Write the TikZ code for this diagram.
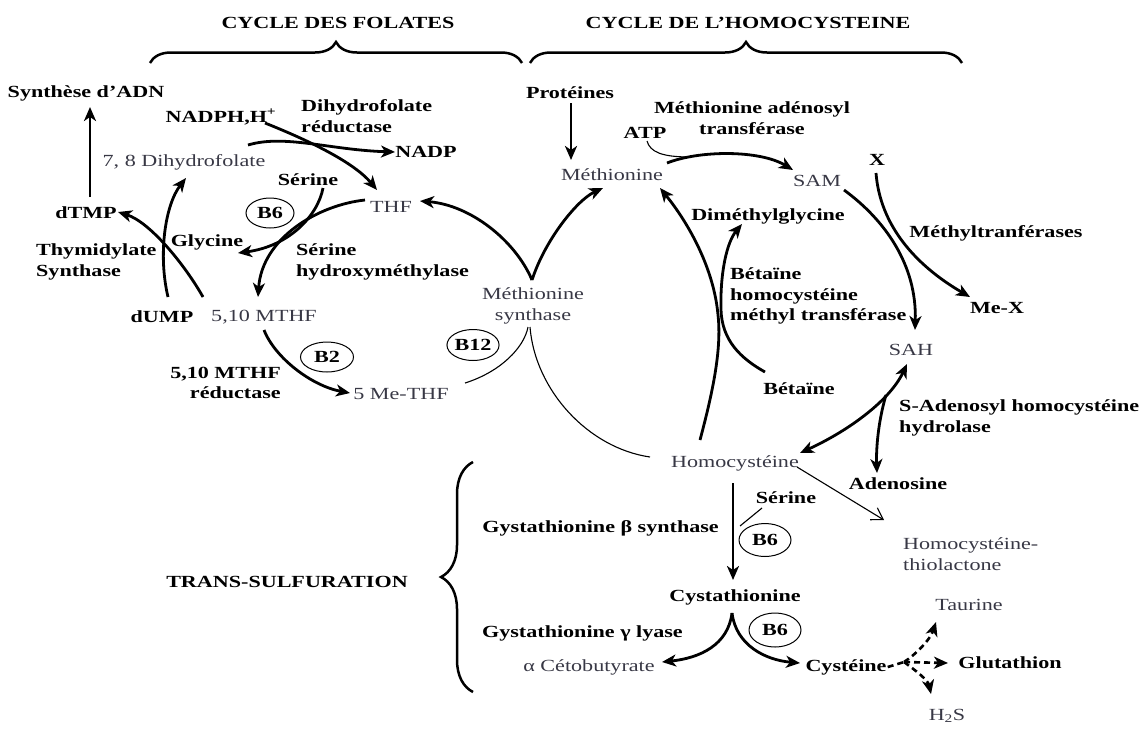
\documentclass[tikz,border=0pt]{standalone}
\usepackage{fontspec}
\setmainfont{Liberation Serif}[FakeStretch=1.3]
\usetikzlibrary{arrows.meta,shapes.geometric,decorations.pathreplacing}
\definecolor{txtgray}{rgb}{0.22,0.22,0.27}
\tikzset{
  lbl/.style={inner sep=1pt, font=\fontsize{17}{20.5}\selectfont, text=txtgray},
  blbl/.style={inner sep=1pt, font=\fontsize{17}{20.5}\selectfont\bfseries, text=black},
  vit/.style={draw, ellipse, line width=1pt, inner sep=0pt, font=\fontsize{17}{19}\selectfont\bfseries},
  thk/.style={line width=2.8pt},
  thn/.style={line width=1.1pt},
  dsh/.style={line width=2.6pt, dash pattern=on 6pt off 4pt},
  brc/.style={decorate, line width=2.5pt, decoration={brace, amplitude=#1}},
}
\begin{document}
\begin{tikzpicture}[x=1pt,y=-1pt,>={Stealth[length=14pt,width=12pt,inset=4pt]}]
\useasboundingbox (0,0) rectangle (1139,729);

% titles and braces
\node[blbl] (t1) at (338,23) {CYCLE DES FOLATES};
\node[blbl] (t2) at (748,23) {CYCLE DE L’HOMOCYSTEINE};
\draw[brc=21pt] (150,63) -- (522,63);
\draw[brc=21pt] (530,63) -- (962,63);

% folate cycle
\node[blbl] (synth) at (86,93) {Synthèse d’ADN};
\node[blbl] (nadph) at (221,117) {NADPH,H\textsuperscript{+}};
\node[blbl, anchor=west, align=left] (dhfr) at (300,116) {Dihydrofolate\\réductase};
\node[blbl] (nadp) at (426,152) {NADP};
\node[lbl] (dhf) at (184,162) {7, 8 Dihydrofolate};
\node[blbl] (ser1) at (308,180) {Sérine};
\node[vit, minimum width=48pt, minimum height=30pt] (b6a) at (270,213) {B6};
\node[lbl] (thf) at (391,207) {THF};
\node[blbl] (dtmp) at (86,213) {dTMP};
\node[blbl] (gly) at (207,242) {Glycine};
\node[blbl, anchor=west, align=left] (ts) at (35,262) {Thymidylate\\Synthase};
\node[blbl, anchor=west, align=left] (shmt) at (295,262) {Sérine\\hydroxyméthylase};
\node[blbl] (dump) at (162,317) {dUMP};
\node[lbl] (mthf) at (264,317) {5,10 MTHF};
\node[lbl, align=center] (ms) at (533,306) {Méthionine\\synthase};
\node[vit, minimum width=53pt, minimum height=30pt] (b2) at (327,357) {B2};
\node[vit, minimum width=52pt, minimum height=31pt] (b12) at (473,345) {B12};
\node[blbl, anchor=east, align=right] (mthfr) at (282,383) {5,10 MTHF\\réductase};
\node[lbl] (methf) at (401,394) {5 Me-THF};

% homocysteine cycle
\node[blbl] (prot) at (570,93) {Protéines};
\node[blbl, align=center] (mat) at (752,118) {Méthionine adénosyl\\transférase};
\node[blbl] (atp) at (645,133) {ATP};
\node[lbl] (met) at (612,175) {Méthionine};
\node[lbl] (sam) at (817,181) {SAM};
\node[blbl] (xx) at (877,160) {X};
\node[blbl] (dmg) at (768,216) {Diméthylglycine};
\node[blbl] (mtase) at (996,233) {Méthyltranférases};
\node[blbl, anchor=west, align=left] (bhmt) at (729,296) {Bétaïne\\homocystéine\\méthyl transférase};
\node[blbl] (mex) at (997,308) {Me-X};
\node[lbl] (sah) at (911,350) {SAH};
\node[blbl] (bet) at (799,389) {Bétaïne};
\node[blbl, anchor=west, align=left] (sahh) at (898,418) {S-Adenosyl homocystéine\\hydrolase};
\node[lbl] (hcy) at (735,463) {Homocystéine};
\node[blbl] (ado) at (898,484) {Adenosine};

% trans-sulfuration
\node[blbl] (ser2) at (786,498) {Sérine};
\node[blbl, anchor=east] (cbs) at (720,528) {Gystathionine β synthase};
\node[vit, minimum width=52pt, minimum height=33pt] (b6b) at (765,540) {B6};
\node[lbl, anchor=west, align=left] (htl) at (902,554) {Homocystéine-\\thiolactone};
\node[blbl] (trans) at (287,582) {TRANS-SULFURATION};
\draw[brc=32pt] (473,692) -- (473,462);
\node[blbl] (cyst) at (735,597) {Cystathionine};
\node[lbl] (taur) at (969,605) {Taurine};
\node[blbl, anchor=east] (cgl) at (684,633) {Gystathionine γ lyase};
\node[vit, minimum width=52pt, minimum height=34pt] (b6c) at (775,630) {B6};
\node[lbl] (akb) at (589,667) {α Cétobutyrate};
\node[blbl] (cys) at (846,667) {Cystéine};
\node[blbl] (glu) at (1010,663) {Glutathion};
\node[lbl] (h2s) at (947,716) {H\textsubscript{2}S};

% junction coordinates
\coordinate (j1) at (690,157);
\coordinate (j2) at (886,395);
\coordinate (j3) at (740,526);
\coordinate (j4) at (904,662);

% ---- connectors: folate cycle
\draw[thk,->] ([shift={(4,-16)}]dtmp.center) -- ([shift={(4,14)}]synth.center);
\draw[thk,->] ([shift={(6,-20)}]dump.center) .. controls (158,255) and (165,205) .. ([shift={(2,16)}]dhf.center);
\draw[thk,->] ([shift={(-61,-20)}]mthf.center) .. controls (185,265) and (150,222) .. ([shift={(32,-1)}]dtmp.center);
\draw[thk,->] ([shift={(44,6)}]nadph.center) .. controls (300,137) and (352,160) .. ([shift={(-14,-17)}]thf.center);
\draw[thk,->] ([shift={(64,-17)}]dhf.center) .. controls (285,134) and (330,150) .. ([shift={(-31,0)}]nadp.center);
\draw[thk,->] ([shift={(-26,-7)}]thf.center) .. controls (318,205) and (262,238) .. ([shift={(-6,-20)}]mthf.center);
\draw[thk,->] ([shift={(15,8)}]ser1.center) .. controls (318,215) and (290,246) .. ([shift={(31,11)}]gly.center);
\draw[thk,->] ([shift={(0,13)}]mthf.center) .. controls (275,358) and (312,386) .. ([shift={(-51,-1)}]methf.center);
\draw[thk,->] ([shift={(-1,-26)}]ms.center) .. controls (515,240) and (470,205) .. ([shift={(29,-6)}]thf.center);
\draw[thk,->] ([shift={(-1,-26)}]ms.center) .. controls (545,240) and (577,200) .. ([shift={(-9,13)}]met.center);
\draw[thn] ([shift={(64,-11)}]methf.center) .. controls (500,372) and (524,348) .. ([shift={(-5,21)}]ms.center);
\draw[thn] ([shift={(-3,21)}]ms.center) .. controls (535,390) and (588,448) .. ([shift={(-85,-6)}]hcy.center);

% ---- connectors: homocysteine cycle
\draw[thk,->] ([shift={(1,10)}]prot.center) -- ([shift={(-41,-15)}]met.center);
\draw[thk,->] ([shift={(55,-12)}]met.center) .. controls (700,150) and (760,150) .. ([shift={(-24,-11)}]sam.center);
\draw[thn] ([shift={(2,8)}]atp.center) .. controls (650,152) and (662,157) .. (j1);
\draw[thk,->] ([shift={(-35,-23)}]hcy.center) .. controls (712,395) and (722,350) .. (718,315) .. controls (714,270) and (690,225) .. ([shift={(48,13)}]met.center);
\draw[thk,->] ([shift={(-34,-17)}]bet.center) .. controls (740,358) and (722,340) .. (721,310) .. controls (720,272) and (727,242) .. ([shift={(-26,8)}]dmg.center);
\draw[thk,->] ([shift={(27,9)}]sam.center) .. controls (885,220) and (917,265) .. ([shift={(4,-20)}]sah.center);
\draw[thk,->] ([shift={(-1,13)}]xx.center) .. controls (880,225) and (915,265) .. ([shift={(-27,-11)}]mex.center);
\draw[thk,<->] ([shift={(-4,14)}]sah.center) .. controls (890,400) and (850,430) .. ([shift={(65,-10)}]hcy.center);
\draw[thk,->] (j2) .. controls (878,422) and (876,450) .. ([shift={(-21,-11)}]ado.center);
\draw[thn,->,>={Straight Barb[length=11pt,width=14pt]}] ([shift={(62,4)}]hcy.center) -- ([shift={(-18,-34)}]htl.west);

% ---- connectors: trans-sulfuration
\draw[thk,->] ([shift={(-2,20)}]hcy.center) -- ([shift={(-2,-17)}]cyst.center);
\draw[thn] ([shift={(-24,10)}]ser2.center) -- (j3);
\draw[thk,->] ([shift={(-3,16)}]cyst.center) .. controls (728,645) and (700,658) .. ([shift={(73,-5)}]akb.center);
\draw[thk,->] ([shift={(-3,16)}]cyst.center) .. controls (736,645) and (765,660) .. ([shift={(-46,-4)}]cys.center);
\draw[dsh] (cys.east) -- (j4);
\draw[dsh,->] (j4) .. controls (915,655) and (930,640) .. ([shift={(-33,17)}]taur.center);
\draw[dsh,->] (j4) -- ([shift={(-62,0)}]glu.center);
\draw[dsh,->] (j4) .. controls (915,670) and (928,680) .. ([shift={(-16,-22)}]h2s.center);
\end{tikzpicture}
\end{document}
